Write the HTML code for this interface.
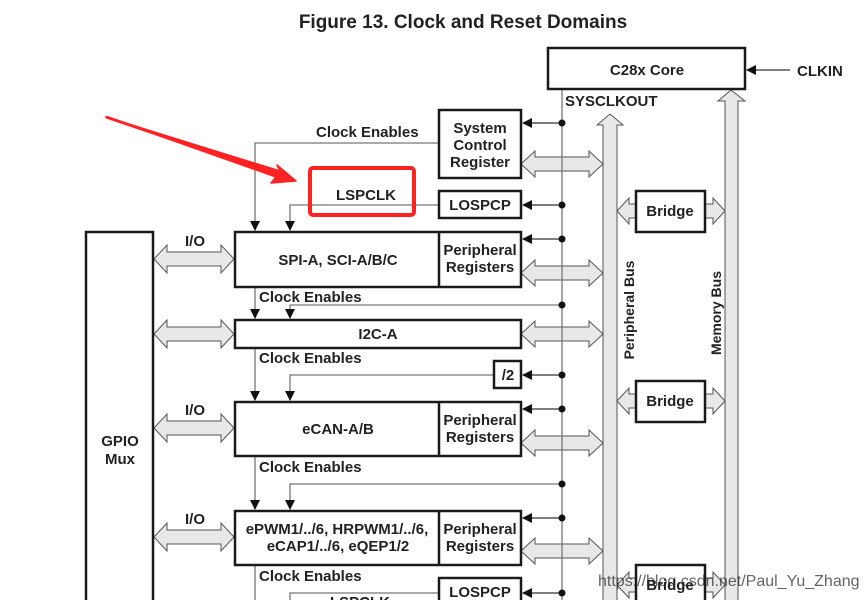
<!DOCTYPE html>
<html><head><meta charset="utf-8"><style>
html,body{margin:0;padding:0;background:#fff;}
svg{display:block;}
text{font-family:"Liberation Sans",Arial,sans-serif;font-weight:bold;fill:#222;}
</style></head><body>
<svg width="867" height="600" viewBox="0 0 867 600" xmlns="http://www.w3.org/2000/svg">
<defs>
<marker id="ah" markerWidth="10" markerHeight="10" refX="9" refY="5" orient="auto" markerUnits="userSpaceOnUse">
<path d="M0,0 L10,5 L0,10 z" fill="#111"/></marker>
</defs>
<text x="463" y="28" font-size="19" text-anchor="middle" fill="#000">Figure 13. Clock and Reset Domains</text>

<!-- buses -->
<path d="M603,600 L603,125 L597,125 L610,114 L623,125 L617,125 L617,600" fill="#e8e8e8" stroke="#555" stroke-width="1"/>
<path d="M725,600 L725,101 L718,101 L731,90 L745,101 L738,101 L738,600" fill="#e8e8e8" stroke="#555" stroke-width="1"/>
<text transform="translate(634,310) rotate(-90)" font-size="14" text-anchor="middle">Peripheral Bus</text>
<text transform="translate(721,313) rotate(-90)" font-size="14" text-anchor="middle">Memory Bus</text>

<!-- bridges arrows -->
<g fill="#e8e8e8" stroke="#555" stroke-width="1">
<path d="M617,211 L629,198 L629,204 L636,204 L636,218 L629,218 L629,224 z"/>
<path d="M725,211 L713,198 L713,204 L705,204 L705,218 L713,218 L713,224 z"/>
<path d="M617,401 L629,388 L629,394 L636,394 L636,408 L629,408 L629,414 z"/>
<path d="M725,401 L713,388 L713,394 L705,394 L705,408 L713,408 L713,414 z"/>
<path d="M617,585 L629,572 L629,578 L636,578 L636,592 L629,592 L629,598 z"/>
<path d="M725,585 L713,572 L713,578 L705,578 L705,592 L713,592 L713,598 z"/>
</g>

<!-- wide double arrows -->
<g fill="#e8e8e8" stroke="#555" stroke-width="1">
<path d="M521,164 L535,151 L535,157 L589,157 L589,151 L603,164 L589,177 L589,171 L535,171 L535,177 z"/>
<path d="M521,273 L535,260 L535,266 L589,266 L589,260 L603,273 L589,286 L589,280 L535,280 L535,286 z"/>
<path d="M521,334 L535,321 L535,327 L589,327 L589,321 L603,334 L589,347 L589,341 L535,341 L535,347 z"/>
<path d="M521,443 L535,430 L535,436 L589,436 L589,430 L603,443 L589,456 L589,450 L535,450 L535,456 z"/>
<path d="M521,551 L535,538 L535,544 L589,544 L589,538 L603,551 L589,564 L589,558 L535,558 L535,564 z"/>
<path d="M154,259 L167,245 L167,252 L221,252 L221,245 L234,259 L221,273 L221,266 L167,266 L167,273 z"/>
<path d="M154,334 L167,320 L167,327 L221,327 L221,320 L234,334 L221,348 L221,341 L167,341 L167,348 z"/>
<path d="M154,428 L167,414 L167,421 L221,421 L221,414 L234,428 L221,442 L221,435 L167,435 L167,442 z"/>
<path d="M154,537 L167,523 L167,530 L221,530 L221,523 L234,537 L221,551 L221,544 L167,544 L167,551 z"/>
</g>

<!-- clock lines -->
<g stroke="#777" stroke-width="1.3" fill="none">
<line x1="562" y1="89" x2="562" y2="600"/>
<path d="M439,143 L255,143 L255,230" marker-end="url(#ah)"/>
<path d="M439,205 L290,205 L290,230" marker-end="url(#ah)"/>
<path d="M255,287 L255,318" marker-end="url(#ah)"/>
<path d="M562,305 L290,305 L290,318" marker-end="url(#ah)"/>
<path d="M255,348 L255,400" marker-end="url(#ah)"/>
<path d="M494,375 L290,375 L290,400" marker-end="url(#ah)"/>
<path d="M255,456 L255,509" marker-end="url(#ah)"/>
<path d="M562,484 L290,484 L290,509" marker-end="url(#ah)"/>
<path d="M255,565 L255,600"/>
<path d="M439,593 L290,593 L290,600"/>
</g>
<g stroke="#333" stroke-width="1.3" fill="none">
<path d="M562,123 L523,123" marker-end="url(#ah)"/>
<path d="M562,205 L523,205" marker-end="url(#ah)"/>
<path d="M562,239 L523,239" marker-end="url(#ah)"/>
<path d="M562,375 L523,375" marker-end="url(#ah)"/>
<path d="M562,409 L523,409" marker-end="url(#ah)"/>
<path d="M562,518 L523,518" marker-end="url(#ah)"/>
<path d="M562,593 L523,593" marker-end="url(#ah)"/>
<path d="M790,70 L747,70" marker-end="url(#ah)"/>
</g>
<g fill="#111">
<circle cx="562" cy="123" r="3.5"/><circle cx="562" cy="205" r="3.5"/><circle cx="562" cy="239" r="3.5"/>
<circle cx="562" cy="305" r="3.5"/><circle cx="562" cy="375" r="3.5"/><circle cx="562" cy="409" r="3.5"/>
<circle cx="562" cy="484" r="3.5"/><circle cx="562" cy="518" r="3.5"/><circle cx="562" cy="593" r="3.5"/>
</g>

<!-- boxes -->
<g fill="#fff" stroke="#1a1a1a" stroke-width="2.5">
<rect x="548" y="48" width="197" height="41"/>
<rect x="439" y="110" width="82" height="68"/>
<rect x="439" y="191" width="82" height="27"/>
<rect x="235" y="232" width="286" height="55"/>
<line x1="439" y1="232" x2="439" y2="287"/>
<rect x="235" y="320" width="286" height="28"/>
<rect x="494" y="361" width="27" height="27"/>
<rect x="235" y="402" width="286" height="54"/>
<line x1="439" y1="402" x2="439" y2="456"/>
<rect x="235" y="511" width="286" height="54"/>
<line x1="439" y1="511" x2="439" y2="565"/>
<rect x="439" y="578" width="82" height="30"/>
<rect x="86" y="232" width="67" height="380"/>
<rect x="636" y="191" width="69" height="41"/>
<rect x="636" y="381" width="69" height="41"/>
<rect x="636" y="565" width="69" height="45"/>
</g>

<g font-size="15">
<text x="647" y="75" text-anchor="middle">C28x Core</text>
<text x="797" y="76">CLKIN</text>
<text x="565" y="106">SYSCLKOUT</text>
<text x="480" y="133" text-anchor="middle">System</text>
<text x="480" y="150" text-anchor="middle">Control</text>
<text x="480" y="167" text-anchor="middle">Register</text>
<text x="480" y="210" text-anchor="middle">LOSPCP</text>
<text x="316" y="137">Clock Enables</text>
<text x="336" y="200">LSPCLK</text>
<text x="338" y="265" text-anchor="middle">SPI-A, SCI-A/B/C</text>
<text x="480" y="255" text-anchor="middle">Peripheral</text>
<text x="480" y="272" text-anchor="middle">Registers</text>
<text x="259" y="302">Clock Enables</text>
<text x="378" y="339" text-anchor="middle">I2C-A</text>
<text x="259" y="363">Clock Enables</text>
<text x="508" y="380" text-anchor="middle">/2</text>
<text x="338" y="434" text-anchor="middle">eCAN-A/B</text>
<text x="480" y="425" text-anchor="middle">Peripheral</text>
<text x="480" y="442" text-anchor="middle">Registers</text>
<text x="259" y="472">Clock Enables</text>
<text x="337" y="534" text-anchor="middle">ePWM1/../6, HRPWM1/../6,</text>
<text x="338" y="551" text-anchor="middle">eCAP1/../6, eQEP1/2</text>
<text x="480" y="534" text-anchor="middle">Peripheral</text>
<text x="480" y="551" text-anchor="middle">Registers</text>
<text x="259" y="581">Clock Enables</text>
<text x="480" y="597" text-anchor="middle">LOSPCP</text>
<text x="330" y="607">LSPCLK</text>
<text x="670" y="216" text-anchor="middle">Bridge</text>
<text x="670" y="406" text-anchor="middle">Bridge</text>
<text x="670" y="590" text-anchor="middle">Bridge</text>
<text x="195" y="246" text-anchor="middle">I/O</text>
<text x="195" y="415" text-anchor="middle">I/O</text>
<text x="195" y="524" text-anchor="middle">I/O</text>
<text x="120" y="446" text-anchor="middle">GPIO</text>
<text x="120" y="464" text-anchor="middle">Mux</text>
</g>

<!-- red annotation -->
<rect x="310" y="168" width="104" height="47" rx="3" fill="none" stroke="#f22" stroke-width="4"/>
<path d="M106,117 L280,171 L277,165 L296,181 L271,183 L276,177 z" fill="#f22" stroke="#f22" stroke-width="1.5" stroke-linejoin="round"/>
<path d="M106,117 L278,175" stroke="#f22" stroke-width="3"/>

<text x="598" y="586" font-size="16" style="font-weight:normal" fill="#ddd" opacity="0.7">https://blog.csdn.net/Paul_Yu_Zhang</text>
</svg>
</body></html>
